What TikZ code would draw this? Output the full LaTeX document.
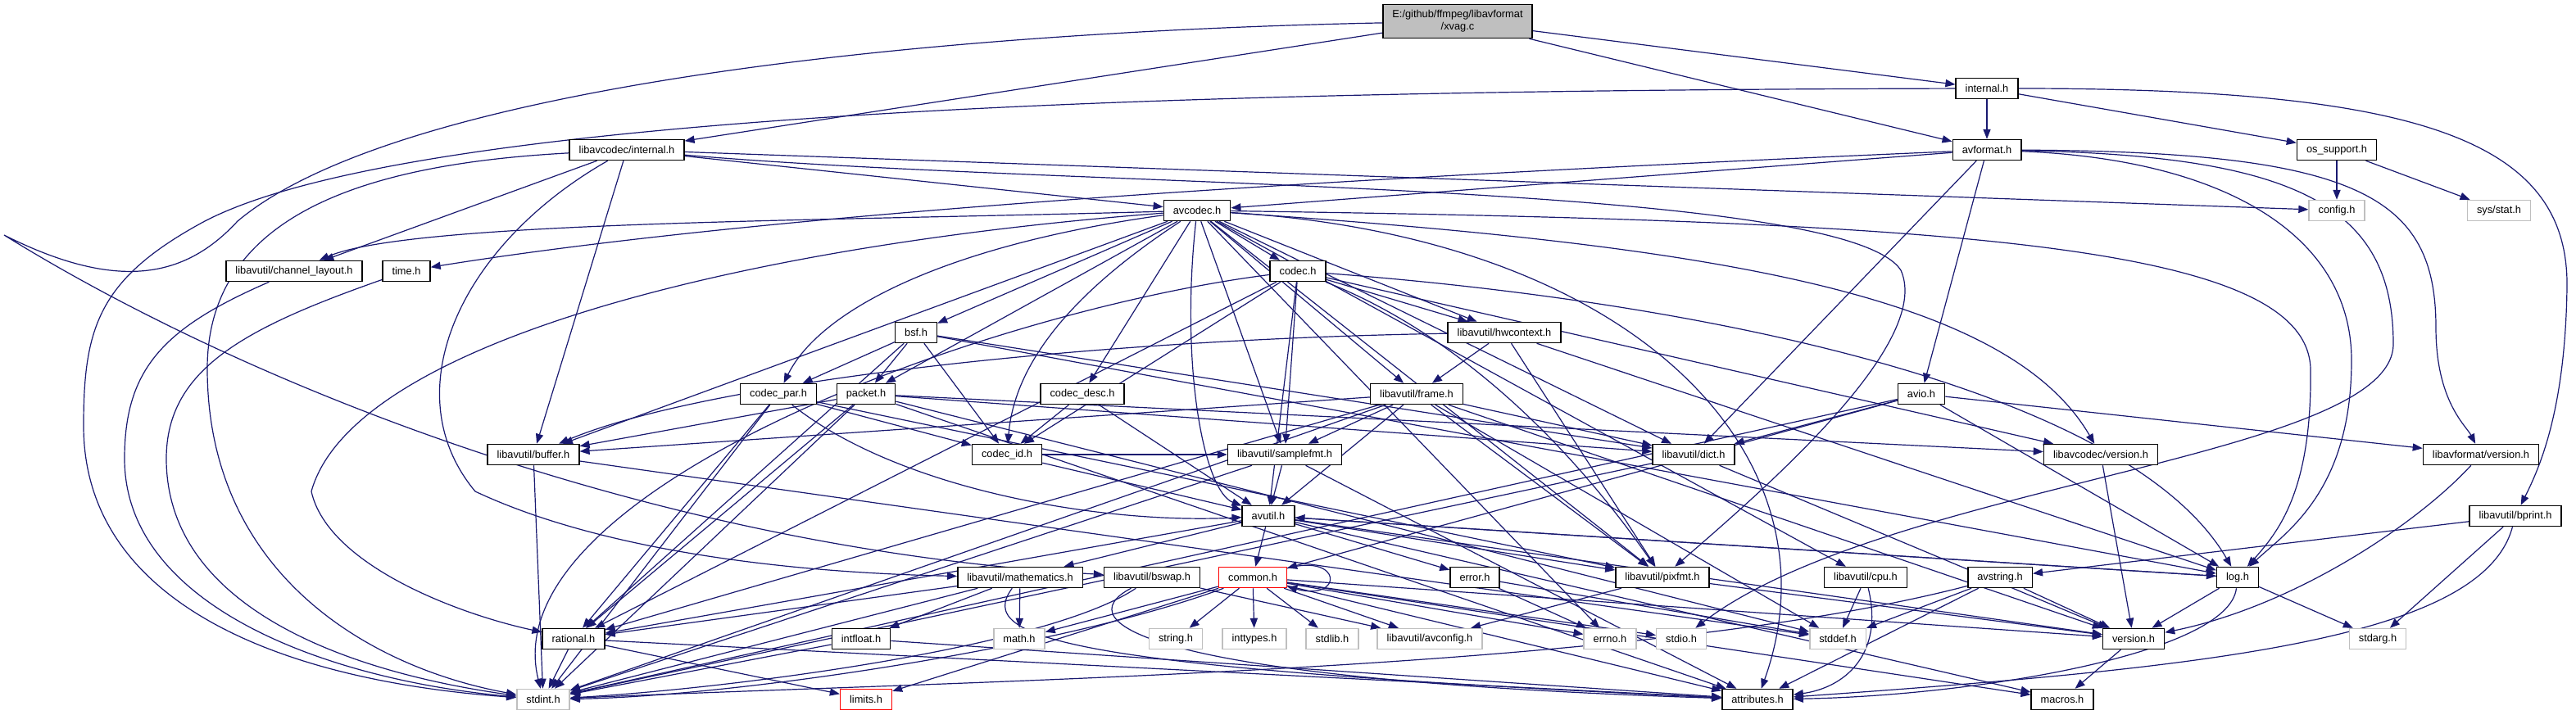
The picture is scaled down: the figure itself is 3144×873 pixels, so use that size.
\documentclass[tikz,border=0pt]{standalone}
\usepackage{fontspec}
\setmainfont{Liberation Sans}
\usetikzlibrary{arrows.meta}
\definecolor{edgeblue}{HTML}{191970}
\definecolor{sysgray}{HTML}{BFBFBF}
\pgfdeclarelayer{edges}
\pgfsetlayers{edges,main}
\tikzset{
  hdr/.style={draw=black,line width=0.75pt,fill=white,font=\fontsize{6.4}{7.6}\selectfont,inner xsep=5.75pt,inner ysep=0pt,minimum height=12.5pt},
  syshdr/.style={hdr,draw=sysgray},
  cuthdr/.style={hdr,draw=red},
  srchdr/.style={hdr,fill=sysgray,align=center,minimum height=20.5pt},
  dep/.style={draw=edgeblue,line width=0.6pt,-{Triangle[length=6pt,width=4.6pt]}}
}
\begin{document}
\begin{tikzpicture}[x=0.5pt,y=-0.5pt]
\useasboundingbox (0,0) rectangle (3144,873);
\node[srchdr] (xvag) at (1779,26) {E:/github/ffmpeg/libavformat\\/xvag.c};
\node[hdr] (lfint) at (2425,108) {internal.h};
\node[hdr] (avcint) at (765,183) {libavcodec/internal.h};\node[hdr] (avformat) at (2425,183) {avformat.h};\node[hdr] (ossupport) at (2852,183) {os\_support.h};
\node[hdr] (avcodec) at (1461,257) {avcodec.h};\node[syshdr] (config) at (2852,257) {config.h};\node[syshdr] (sysstat) at (3050,257) {sys/stat.h};
\node[hdr] (chlayout) at (359,331) {libavutil/channel\_layout.h};\node[hdr] (timeh) at (496,331) {time.h};\node[hdr] (codec) at (1584,331) {codec.h};
\node[hdr] (bsf) at (1118,406) {bsf.h};\node[hdr] (hwctx) at (1836,406) {libavutil/hwcontext.h};
\node[hdr] (codecpar) at (950,481) {codec\_par.h};\node[hdr] (packet) at (1057,481) {packet.h};\node[hdr] (codecdesc) at (1321,481) {codec\_desc.h};
\node[hdr] (frame) at (1729,481) {libavutil/frame.h};\node[hdr] (avio) at (2345,481) {avio.h};
\node[hdr] (buffer) at (651,555) {libavutil/buffer.h};\node[hdr] (codecid) at (1229,555) {codec\_id.h};\node[hdr] (samplefmt) at (1568,555) {libavutil/samplefmt.h};
\node[hdr] (dict) at (2067,555) {libavutil/dict.h};\node[hdr] (lavcver) at (2564,555) {libavcodec/version.h};\node[hdr] (lavfver) at (3028,555) {libavformat/version.h};
\node[hdr] (avutil) at (1548,630) {avutil.h};\node[hdr] (bprint) at (3070,630) {libavutil/bprint.h};
\node[hdr] (mathem) at (1245,705) {libavutil/mathematics.h};\node[hdr] (bswap) at (1406,705) {libavutil/bswap.h};\node[cuthdr] (common) at (1529,705) {common.h};
\node[hdr] (error) at (1800,705) {error.h};\node[hdr] (pixfmt) at (2029,705) {libavutil/pixfmt.h};\node[hdr] (cpu) at (2277,705) {libavutil/cpu.h};
\node[hdr] (avstring) at (2441,705) {avstring.h};\node[hdr] (log) at (2731,705) {log.h};
\node[hdr] (rational) at (700,780) {rational.h};\node[hdr] (intfloat) at (1051,780) {intfloat.h};\node[syshdr] (mathh) at (1244,780) {math.h};
\node[syshdr] (stringh) at (1435,780) {string.h};\node[syshdr] (inttypes) at (1531,780) {inttypes.h};\node[syshdr] (stdlib) at (1626,780) {stdlib.h};
\node[syshdr] (avconfig) at (1745,780) {libavutil/avconfig.h};\node[syshdr] (errno) at (1965,780) {errno.h};\node[syshdr] (stdio) at (2052,780) {stdio.h};
\node[syshdr] (stddef) at (2243,780) {stddef.h};\node[hdr] (version) at (2604,780) {version.h};\node[syshdr] (stdarg) at (2902,780) {stdarg.h};
\node[syshdr] (stdint) at (663,854) {stdint.h};\node[cuthdr] (limits) at (1057,854) {limits.h};\node[hdr] (attributes) at (2145,854) {attributes.h};\node[hdr] (macros) at (2517,854) {macros.h};
\begin{pgfonlayer}{edges}
\fill[white] (0,0) rectangle (3144,873);
\draw[dep](xvag)--(avcint);\draw[dep](xvag)--(lfint);\draw[dep](xvag)--(avformat);
\draw[dep](xvag).. controls(1100,40) and (480,110)..(290,270).. controls(230,335) and (150,360)..(5,287).. controls(300,470) and (800,670)..(bswap);
\draw[dep](lfint)--(avformat);\draw[dep](lfint)--(ossupport);
\draw[dep](lfint).. controls(2950,108) and (3135,170)..(3133,350).. controls(3131,500) and (3100,570)..(bprint);
\draw[dep](lfint).. controls(1400,110) and (500,140)..(250,270).. controls(120,340) and (102,400)..(102,520).. controls(102,730) and (330,830)..(stdint);
\draw[dep](ossupport)--(config);\draw[dep](ossupport)--(sysstat);
\draw[dep](avformat)--(avcodec);\draw[dep](avformat).. controls(1800,210) and (1000,250)..(timeh);
\draw[dep](avformat)--(avio);\draw[dep](avformat)--(dict);
\draw[dep](avformat).. controls(2720,195) and (2870,290)..(2870,440).. controls(2870,600) and (2790,650)..(log);
\draw[dep](avformat).. controls(2800,190) and (2921,250)..(2921,420).. controls(2921,560) and (2300,590)..(stdio);
\draw[dep](avformat).. controls(2880,185) and (2973,240)..(2973,400).. controls(2973,490) and (3010,520)..(lavfver);
\draw[dep](avcint)--(avcodec);\draw[dep](avcint)--(config);\draw[dep](avcint)--(chlayout);\draw[dep](avcint)--(buffer);
\draw[dep](avcint).. controls(450,200) and (253,260)..(253,450).. controls(253,700) and (450,815)..(stdint);
\draw[dep](avcint).. controls(560,300) and (480,480)..(580,600).. controls(750,680) and (1000,700)..(mathem);
\draw[dep](avcint).. controls(1300,230) and (2250,220)..(2320,330).. controls(2360,420) and (2150,600)..(pixfmt);
\draw[dep](chlayout).. controls(200,400) and (152,450)..(152,560).. controls(152,740) and (400,830)..(stdint);
\draw[dep](timeh).. controls(300,400) and (203,450)..(203,560).. controls(203,740) and (420,820)..(stdint);
\draw[dep](avcodec).. controls(1000,270) and (500,270)..(chlayout);\draw[dep](avcodec)--(buffer);
\draw[dep](avcodec).. controls(1150,300) and (1000,380)..(codecpar);\draw[dep](avcodec)--(packet);\draw[dep](avcodec)--(bsf);
\draw[dep](avcodec).. controls(1350,330) and (1240,420)..(codecid);\draw[dep](avcodec)--(codecdesc);
\draw[dep](avcodec).. controls(1440,450) and (1470,600)..(avutil);\draw[dep](avcodec)--(samplefmt);\draw[dep](avcodec)--(codec);
\draw[dep](avcodec)--(frame);\draw[dep](avcodec)--(hwctx);\draw[dep](avcodec)--(dict);\draw[dep](avcodec)--(pixfmt);
\draw[dep](avcodec)--(errno);\draw[dep](avcodec)--(cpu);\draw[dep](avcodec).. controls(2000,290) and (2250,560)..(attributes);
\draw[dep](avcodec).. controls(2100,300) and (2450,360)..(lavcver);
\draw[dep](avcodec).. controls(2400,270) and (2815,300)..(2820,450).. controls(2822,600) and (2780,650)..(log);
\draw[dep](avcodec).. controls(900,300) and (430,420)..(380,600).. controls(400,690) and (560,750)..(rational);
\draw[dep](codec)--(hwctx);\draw[dep](codec)--(avutil);\draw[dep](codec)--(samplefmt);\draw[dep](codec)--(codecid);
\draw[dep](codec).. controls(1760,400) and (1900,520)..(pixfmt);\draw[dep](codec)--(rational);
\draw[dep](codec).. controls(2100,370) and (2600,480)..(log);\draw[dep](codec)--(lavcver);
\draw[dep](codec).. controls(1200,380) and (600,600)..(stdint);
\draw[dep](bsf)--(codecpar);\draw[dep](bsf)--(packet);\draw[dep](bsf)--(codecid);\draw[dep](bsf)--(dict);\draw[dep](bsf)--(log);\draw[dep](bsf)--(rational);
\draw[dep](codecpar)--(codecid);\draw[dep](codecpar).. controls(1100,600) and (1350,640)..(avutil);\draw[dep](codecpar)--(pixfmt);
\draw[dep](codecpar)--(rational);\draw[dep](codecpar)--(stdint);
\draw[dep](packet)--(buffer);\draw[dep](packet)--(dict);\draw[dep](packet)--(lavcver);\draw[dep](packet)--(rational);
\draw[dep](packet)--(stdint);\draw[dep](packet)--(stddef);\draw[dep](packet)--(attributes);
\draw[dep](codecdesc)--(codecid);\draw[dep](codecdesc)--(avutil);
\draw[dep](codecid)--(avutil);\draw[dep](codecid)--(samplefmt);
\draw[dep](hwctx)--(frame);\draw[dep](hwctx).. controls(1300,415) and (850,470)..(buffer);\draw[dep](hwctx)--(pixfmt);\draw[dep](hwctx)--(log);
\draw[dep](frame)--(samplefmt);\draw[dep](frame)--(buffer);\draw[dep](frame)--(avutil);\draw[dep](frame)--(dict);\draw[dep](frame)--(pixfmt);
\draw[dep](frame)--(rational);\draw[dep](frame)--(stdint);\draw[dep](frame)--(stddef);\draw[dep](frame)--(version);
\draw[dep](samplefmt)--(avutil);\draw[dep](samplefmt)--(stdint);\draw[dep](samplefmt)--(attributes);
\draw[dep](dict)--(version);\draw[dep](dict)--(stdint);
\draw[dep](buffer)--(stdint);\draw[dep](buffer)--(stddef);
\draw[dep](avio)--(dict);\draw[dep](avio)--(log);\draw[dep](avio)--(lavfver);\draw[dep](avio)--(common);\draw[dep](avio)--(stdint);
\draw[dep](lavcver)--(version);\draw[dep](lavfver).. controls(2950,640) and (2800,740)..(version);
\draw[dep](avutil)--(common);\draw[dep](avutil)--(error);\draw[dep](avutil)--(rational);\draw[dep](avutil)--(mathem);
\draw[dep](avutil)--(pixfmt);\draw[dep](avutil)--(log);\draw[dep](avutil)--(version);\draw[dep](avutil)--(macros);
\draw[dep](common)--(mathh);\draw[dep](common)--(stringh);\draw[dep](common)--(inttypes);\draw[dep](common)--(stdlib);
\draw[dep](common)--(avconfig);\draw[dep](common)--(errno);\draw[dep](common)--(stdio);\draw[dep](common)--(attributes);
\draw[dep](common)--(macros);\draw[dep](common)--(version);\draw[dep](common)--(limits);
\draw[dep](common).. controls(1300,790) and (900,850)..(stdint);\draw[dep](common) to[loop right] ();
\draw[dep](mathem)--(mathh);\draw[dep](mathem)--(intfloat);\draw[dep](mathem)--(rational);\draw[dep](mathem)--(stdint);
\draw[dep](mathem).. controls(1190,780) and (1300,815)..(attributes);
\draw[dep](intfloat)--(stdint);\draw[dep](intfloat)--(attributes);
\draw[dep](rational)--(stdint);\draw[dep](rational)--(limits);\draw[dep](rational)--(attributes);
\draw[dep](pixfmt)--(avconfig);\draw[dep](pixfmt)--(version);
\draw[dep](bswap)--(avconfig);\draw[dep](bswap).. controls(1300,760) and (1400,830)..(attributes);\draw[dep](bswap).. controls(1280,790) and (900,840)..(stdint);
\draw[dep](cpu)--(stddef);\draw[dep](cpu).. controls(2300,800) and (2250,840)..(attributes);
\draw[dep](error)--(errno);\draw[dep](error)--(stddef);
\draw[dep](avstring)--(stddef);\draw[dep](avstring)--(attributes);\draw[dep](avstring)--(version);
\draw[dep](avstring).. controls(2000,820) and (1200,830)..(stdint);
\draw[dep](log)--(stdarg);\draw[dep](log)--(version);\draw[dep](log)--(avutil);
\draw[dep](log).. controls(2720,800) and (2400,850)..(attributes);
\draw[dep](version)--(macros);
\draw[dep](bprint)--(avstring);\draw[dep](bprint)--(stdarg);\draw[dep](bprint).. controls(3030,780) and (2700,815)..(attributes);
\end{pgfonlayer}
\end{tikzpicture}
\end{document}
